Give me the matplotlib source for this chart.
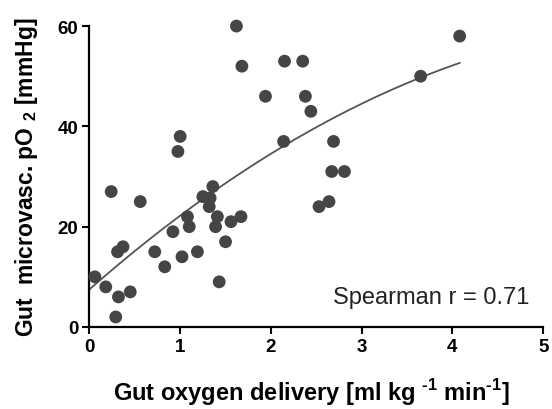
import numpy as np
import matplotlib
matplotlib.use("Agg")
import matplotlib.pyplot as plt

plt.rcParams['font.family'] = ['Liberation Sans', 'DejaVu Sans']
plt.rcParams['mathtext.fontset'] = 'custom'
plt.rcParams['mathtext.rm'] = 'Liberation Sans'
plt.rcParams['mathtext.bf'] = 'Liberation Sans:bold'

# Data
do2 = [1.62, 1.68, 2.15, 2.35, 1.94, 2.38, 2.44, 1.00, 0.975, 2.14,
       4.08, 3.65, 2.69, 2.67, 2.81, 2.64, 2.53,
       0.24, 0.56, 1.36, 1.25, 1.33, 1.32, 1.08, 1.10, 0.92, 1.41, 1.39,
       1.56, 1.67, 1.50, 0.37, 0.31, 0.72, 1.19, 1.02, 0.83,
       0.06, 0.18, 0.45, 0.32, 0.29, 1.43]
po2 = [60, 52, 53, 53, 46, 46, 43, 38, 35, 37,
       58, 50, 37, 31, 31, 25, 24,
       27, 25, 28, 26, 25.7, 24, 22, 20, 19, 22, 20,
       21, 22, 17, 16, 15, 15, 15, 14, 12,
       10, 8, 7, 6, 2, 9]

# Fitted curve (quadratic) coefficients: c0 + c1*x + c2*x^2
fit_coeffs = [7.5, 15.88, -1.18]
fit_range = [0.0, 4.08]

x_ticks = [0, 1, 2, 3, 4, 5]
y_ticks = [0, 20, 40, 60]
annotation = "Spearman r = 0.71"

fig = plt.figure(figsize=(5.52, 4.10), dpi=100)
ax = fig.add_axes([0.162, 0.2, 0.822, 0.734])

ax.scatter(do2, po2, s=85, color='#454545', edgecolors='none', zorder=3, clip_on=False)

xf = np.linspace(fit_range[0], fit_range[1], 200)
yf = fit_coeffs[0] + fit_coeffs[1] * xf + fit_coeffs[2] * xf ** 2
ax.plot(xf, yf, color='#555555', lw=1.3, zorder=2)

ax.set_xlim(0, 5)
ax.set_ylim(0, 60)
ax.set_xticks(x_ticks)
ax.set_yticks(y_ticks)
ax.set_xticklabels([str(t) for t in x_ticks], fontsize=13.5, fontweight='bold')
ax.set_yticklabels([str(t) for t in y_ticks], fontsize=13.5, fontweight='bold')
ax.tick_params(direction='out', length=5, width=1.5, pad=3, colors='black')

for side in ['top', 'right']:
    ax.spines[side].set_visible(False)
for side in ['left', 'bottom']:
    ax.spines[side].set_linewidth(1.6)

hy = "\u2010"
ax.set_xlabel("Gut oxygen delivery [ml kg $^{\\mathbf{" + hy + "1}}$ min$^{\\mathbf{" + hy + "1}}$]",
              fontsize=17, fontweight='bold', va='center')
ax.set_ylabel("Gut  microvasc. pO $_{\\mathbf{2}}$ [mmHg]",
              fontsize=16.5, fontweight='bold', va='center')
ax.xaxis.set_label_coords(0.49, -0.215)
ax.yaxis.set_label_coords(-0.138, 0.5)

ax.text(0.97, 0.1, annotation, transform=ax.transAxes, ha='right', va='center',
        fontsize=17, color='#222222')

fig.savefig("out.png", dpi=100, facecolor='white')
